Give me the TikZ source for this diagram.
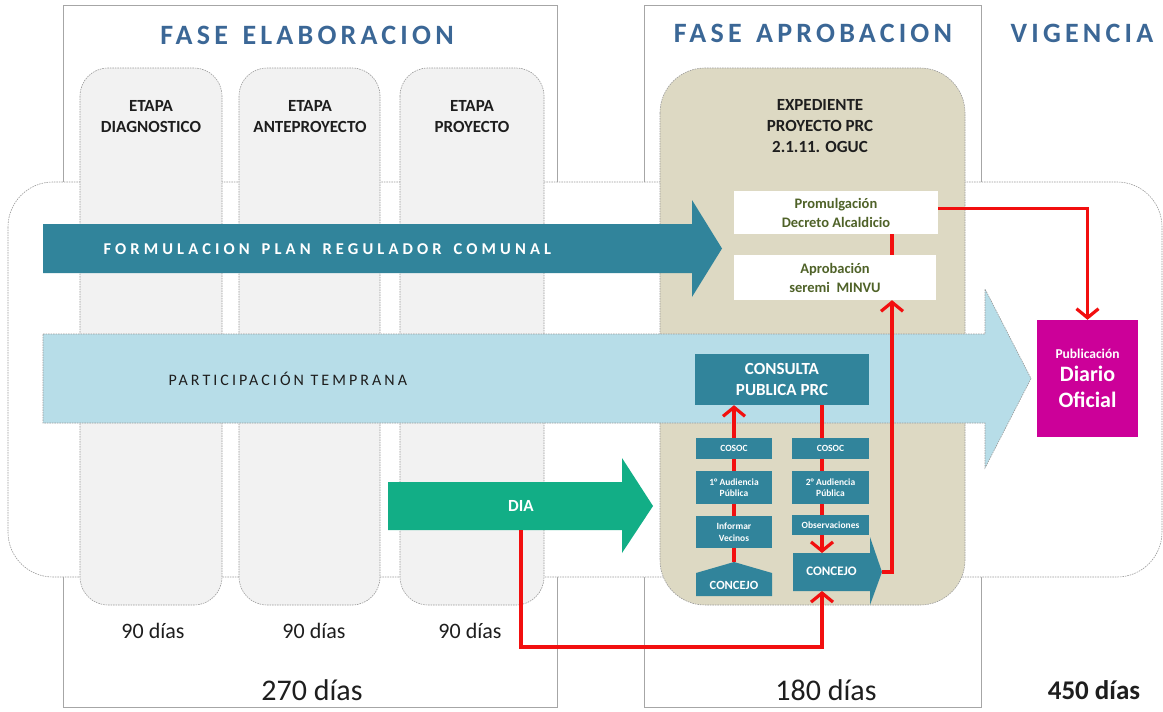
\documentclass[tikz,border=0pt]{standalone}
\usepackage{fontspec}
\setmainfont{Carlito}
\usetikzlibrary{arrows.meta}
\definecolor{tealA}{HTML}{31849B}
\definecolor{lblue}{HTML}{B7DDE8}
\definecolor{tanA}{HTML}{DDD9C3}
\definecolor{greenA}{HTML}{12AE86}
\definecolor{magA}{HTML}{CC0099}
\definecolor{titleblue}{HTML}{3B6796}
\definecolor{oliveA}{HTML}{4F6228}
\definecolor{redA}{HTML}{F20F0F}
\definecolor{lineg}{HTML}{A6A6A6}
\definecolor{dashg}{HTML}{9A9A9A}
\definecolor{colfill}{HTML}{F2F2F2}
\definecolor{txtdark}{HTML}{1E1E1E}
\newcommand\fs[2]{\fontsize{#1}{#2}\selectfont}
\newcommand\xsp{\hspace{4pt}}
\begin{document}
\begin{tikzpicture}[x=1pt,y=-1pt,
  fasebox/.style={draw=lineg,line width=0.9pt},
  dashbd/.style={draw=dashg,line width=0.6pt,dash pattern=on 1.5pt off 1pt},
  etapacol/.style={dashbd,fill=colfill,rounded corners=28pt},
  titletxt/.style={text=titleblue,font={\fs{28}{32}\bfseries\addfontfeature{LetterSpace=15}}},
  etapatxt/.style={text=txtdark,align=center,font={\fs{17}{21}\bfseries}},
  diastxt/.style={text=txtdark,font={\fs{22}{26}}},
  totaltxt/.style={text=txtdark,font={\fs{30}{34}}},
  tealbox/.style={fill=tealA,text=white,inner sep=0pt,align=center,font={\fs{9.5}{11.5}\bfseries}},
  whitebox/.style={fill=white,text=oliveA,inner sep=0pt,align=center,font={\fs{14.5}{19}\bfseries}},
  redline/.style={draw=redA,line width=3.2pt},
  redarrow/.style={redline,-{Straight Barb[length=9pt,width=22pt]}},
]
\useasboundingbox (0,0) rectangle (1163,712);
\fill[white] (0,0) rectangle (1163,712);

% phase frames
\draw[fasebox] (63,5) rectangle (557,707);
\draw[fasebox] (644,5) rectangle (981,707);

% big rounded band
\draw[dashbd,fill=white,rounded corners=45pt] (8,182) rectangle (1162,577);

% etapa columns
\path[etapacol] (80,68) rectangle (222,605);
\path[etapacol] (239,68) rectangle (380,605);
\path[etapacol] (400,68) rectangle (544,605);

% expediente box
\path[dashbd,fill=tanA,rounded corners=45pt] (660,68) rectangle (965,605);

% titles
\node[titletxt] (t1) at (307,35) {FASE \xsp ELABORACION};
\node[titletxt] (t2) at (813,33) {FASE \xsp APROBACION};
\node[titletxt] (t3) at (1082,33) {VIGENCIA};

\node[etapatxt] (et1) at (151,117) {ETAPA\\DIAGNOSTICO};
\node[etapatxt] (et2) at (310,117) {ETAPA\\ANTEPROYECTO};
\node[etapatxt] (et3) at (472,117) {ETAPA\\PROYECTO};
\node[etapatxt] (exp) at (820,126) {EXPEDIENTE\\PROYECTO PRC\\2.1.11. OGUC};

% big arrows
\path[fill=tealA] (43,224) -- (692,224) -- (692,200) -- (722,248.5) -- (692,297) -- (692,273) -- (43,273) -- cycle;
\node[anchor=west,text=white,font={\fs{16.5}{20}\bfseries\addfontfeature{LetterSpace=25}}] (form) at (100,249) {FORMULACION \xsp PLAN \xsp REGULADOR \xsp COMUNAL};

\path[dashbd,fill=lblue] (43,334) -- (985,334) -- (985,289) -- (1031,378.5) -- (985,468) -- (985,423) -- (43,423) -- cycle;
\node[anchor=west,text=txtdark,font={\fs{16}{20}\addfontfeature{LetterSpace=19}}] (part) at (165,379) {PARTICIPACIÓN TEMPRANA};

\path[fill=greenA] (388,482) -- (622,482) -- (622,458) -- (653,506) -- (622,553) -- (622,530) -- (388,530) -- cycle;
\node[text=white,font={\fs{17}{20}\bfseries}] (dia) at (521,506) {DIA};

% helper coordinates
\coordinate (diabot) at (521,530);
\coordinate (cjApeak) at (734,562);
\coordinate (cjBtip) at (882,572);
\coordinate (cjBtop) at (822,553);
\coordinate (cjBbot) at (822,591);
\coordinate (xB) at (822,500);
\coordinate (xC) at (892,400);
\coordinate (dlow) at (822,647);

% boxes
\node[whitebox,minimum width=204pt,minimum height=43pt] (promul) at (836,212.5) {Promulgación\\Decreto Alcaldicio};
\node[whitebox,minimum width=202pt,minimum height=45pt] (aprob) at (835,277.5) {Aprobación\\seremi\ \ MINVU};

\node[tealbox,minimum width=174pt,minimum height=51pt,font={\fs{17}{21}\bfseries}] (consulta) at (782,379.5) {CONSULTA\\PUBLICA PRC};

\node[fill=magA,text=white,inner sep=0pt,minimum width=101pt,minimum height=117pt,align=center,font={\fs{22}{26}\bfseries}] (diario) at (1087.5,378.5) {{\fs{13.5}{16}Publicación}\\[-3pt]Diario\\Oficial};

% red connectors (behind small boxes)
\draw[redarrow] (cjApeak) -- (consulta.south -| cjApeak);
\draw[redarrow] (consulta.south -| xB) -- (cjBtop);
\draw[redarrow] (cjBtip) -| (aprob.south -| xC);
\draw[redline] (aprob.north -| xC) -- (promul.south -| xC);
\draw[redarrow] ([yshift=4pt]promul.east) -| (diario.north);
\draw[redarrow] (diabot) |- (dlow) -- (cjBbot);

% small boxes
\node[tealbox,minimum width=76pt,minimum height=21pt] (cosocA) at (734,448.5) {COSOC};
\node[tealbox,minimum width=76pt,minimum height=33pt] (audA) at (734,487.5) {1° Audiencia\\Pública};
\node[tealbox,minimum width=76pt,minimum height=32pt] (infA) at (734,532) {Informar\\Vecinos};
\path[fill=tealA] (696,573) -- (734,562) -- (772,573) -- (772,596) -- (696,596) -- cycle;
\node[text=white,font={\fs{12.5}{14}\bfseries}] (cjA) at (734,585) {CONCEJO};

\node[tealbox,minimum width=77pt,minimum height=21pt] (cosocB) at (830.5,448.5) {COSOC};
\node[tealbox,minimum width=77pt,minimum height=33pt] (audB) at (830.5,487.5) {2° Audiencia\\Pública};
\node[tealbox,minimum width=77pt,minimum height=20pt] (obsB) at (830.5,525) {Observaciones};
\path[fill=tealA] (793,553) -- (870,553) -- (870,537) -- (882,572) -- (870,605) -- (870,591) -- (793,591) -- cycle;
\node[text=white,font={\fs{13}{15}\bfseries}] (cjB) at (831.5,571) {CONCEJO};

% durations
\node[diastxt] (d1) at (153,631) {90 días};
\node[diastxt] (d2) at (314,631) {90 días};
\node[diastxt] (d3) at (470,631) {90 días};
\node[totaltxt] (tot1) at (312,690) {270 días};
\node[totaltxt] (tot2) at (826,690) {180 días};
\node[totaltxt,font={\fs{27}{32}\bfseries}] (tot3) at (1094,690) {450 días};
\end{tikzpicture}
\end{document}
